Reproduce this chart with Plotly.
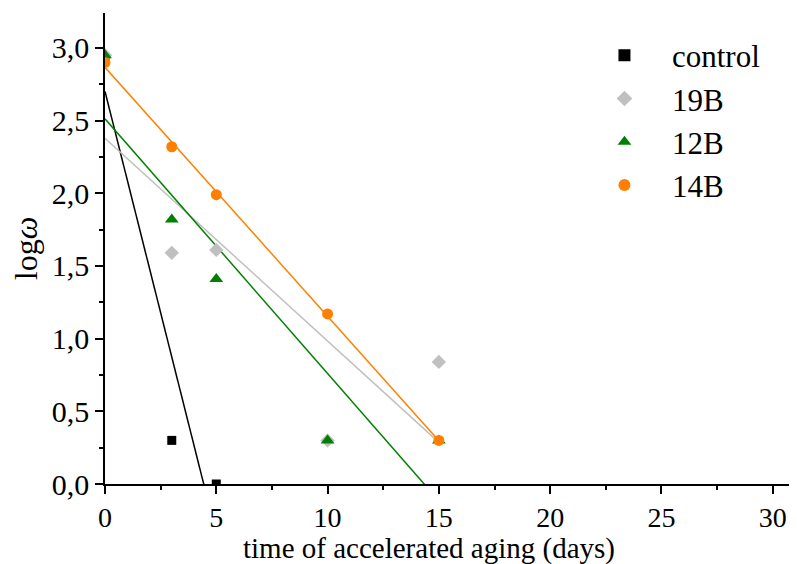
import numpy as np
import plotly.graph_objects as go

days = [0, 3, 5, 10, 15]
control_x = [0, 3, 5]
control_y = [2.93, 0.30, 0.0]
b19_y = [2.95, 1.59, 1.61, 0.30, 0.84]
b12_y = [2.95, 1.82, 1.41, 0.30, 0.30]
b14_y = [2.90, 2.32, 1.99, 1.17, 0.30]
x_title = "time of accelerated aging (days)"
y_title = "log<i>ω</i>"

series = [
    ("control", control_x, control_y, "#000000", "square", 9),
    ("19B", days, b19_y, "#c0c0c0", "diamond", 11),
    ("12B", days, b12_y, "#008000", "triangle-up", 12),
    ("14B", days, b14_y, "#ff8000", "circle", 11),
]

fig = go.Figure()
# fitted lines
for name, xs, ys, col, sym, sz in series:
    k, b = np.polyfit(xs, ys, 1)
    lx = [0, max(xs)]
    fig.add_trace(go.Scatter(x=lx, y=[b + k * v for v in lx], mode="lines",
                             line=dict(color=col, width=1.5), showlegend=False,
                             hoverinfo="skip"))
for name, xs, ys, col, sym, sz in series:
    fig.add_trace(go.Scatter(x=xs, y=ys, mode="markers", name=name,
                             marker=dict(color=col, symbol=sym, size=sz)))

FAM = "Liberation Serif, Times New Roman, serif"
fig.update_layout(
    width=789, height=556,
    margin=dict(l=97, r=2, t=5, b=80),
    plot_bgcolor="white", paper_bgcolor="white",
    separators=", ",
    font=dict(family=FAM, size=28, color="black"),
    legend=dict(x=0.684, y=0.967, xanchor="left", yanchor="top",
                font=dict(family=FAM, size=31, color="black"),
                itemwidth=85,
                bgcolor="rgba(0,0,0,0)", itemsizing="constant", tracegroupgap=0),
    annotations=[dict(text=x_title, xref="paper", yref="paper", x=0.4696, y=-0.137,
                      xanchor="center", yanchor="middle", showarrow=False,
                      font=dict(family=FAM, size=29, color="black"))],
)
common = dict(showgrid=False, zeroline=False, showline=True, linecolor="black",
              linewidth=1.5, ticks="outside", ticklen=8, tickwidth=1.5,
              tickcolor="black", automargin=False)
fig.update_xaxes(range=[0, 31], dtick=5, tick0=0,
                 tickfont=dict(family=FAM, size=28, color="black"),
                 minor=dict(ticks="outside", dtick=2.5, ticklen=4, tickwidth=1.5, tickcolor="black"),
                 **common)
fig.update_yaxes(range=[0, 3.24], dtick=0.5, tick0=0, tickformat=".1f",
                 tickfont=dict(family=FAM, size=30, color="black"),
                 title=dict(text=y_title,
                            font=dict(family=FAM, size=32, color="black"), standoff=10),
                 minor=dict(ticks="outside", dtick=0.25, ticklen=4, tickwidth=1.5, tickcolor="black"),
                 **common)
fig.write_html("out.html")
